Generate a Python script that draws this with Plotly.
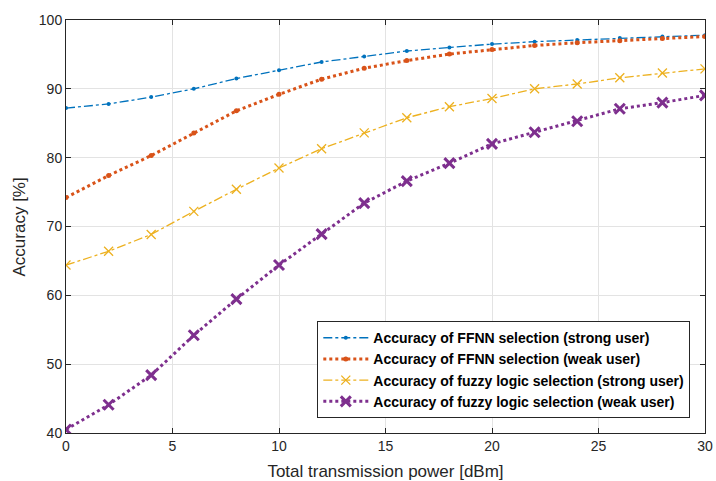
import plotly.graph_objects as go

power_dbm = [0, 2, 4, 6, 8, 10, 12, 14, 16, 18, 20, 22, 24, 26, 28, 30]
ffnn_strong = [87.2, 87.8, 88.8, 90.0, 91.5, 92.7, 93.9, 94.7, 95.5, 96.0, 96.5, 96.85, 97.1, 97.4, 97.6, 97.8]
ffnn_weak = [74.2, 77.4, 80.3, 83.6, 86.8, 89.2, 91.4, 93.0, 94.1, 95.05, 95.7, 96.3, 96.7, 97.0, 97.3, 97.6]
fuzzy_strong = [64.4, 66.4, 68.85, 72.2, 75.4, 78.5, 81.3, 83.6, 85.8, 87.4, 88.6, 90.0, 90.7, 91.6, 92.3, 92.9]
fuzzy_weak = [40.5, 44.1, 48.4, 54.2, 59.45, 64.4, 68.9, 73.4, 76.6, 79.2, 82.0, 83.7, 85.3, 87.1, 88.0, 89.05]

names = [
    "Accuracy of FFNN selection (strong user)",
    "Accuracy of FFNN selection (weak user)",
    "Accuracy of fuzzy logic selection (strong user)",
    "Accuracy of fuzzy logic selection (weak user)",
]
x_title = "Total transmission power [dBm]"
y_title = "Accuracy [%]"

FONT = "Liberation Sans, Arial, Helvetica"

fig = go.Figure()
fig.add_trace(go.Scatter(x=power_dbm, y=ffnn_strong, name=names[0], mode="lines+markers",
                         line=dict(color="#0072BD", width=1.3, dash="dashdot"),
                         marker=dict(symbol="circle", size=4, color="#0072BD")))
fig.add_trace(go.Scatter(x=power_dbm, y=ffnn_weak, name=names[1], mode="lines+markers",
                         line=dict(color="#D95319", width=3, dash="dot"),
                         marker=dict(symbol="circle", size=5, color="#D95319")))
fig.add_trace(go.Scatter(x=power_dbm, y=fuzzy_strong, name=names[2], mode="lines+markers",
                         line=dict(color="#EDB120", width=1.3, dash="dashdot"),
                         marker=dict(symbol="x-thin", size=9, color="#EDB120",
                                     line=dict(color="#EDB120", width=1.3))))
fig.add_trace(go.Scatter(x=power_dbm, y=fuzzy_weak, name=names[3], mode="lines+markers",
                         line=dict(color="#7E2F8E", width=3, dash="dot"),
                         marker=dict(symbol="x-thin", size=10, color="#7E2F8E",
                                     line=dict(color="#7E2F8E", width=3))))

axis_common = dict(showline=True, linecolor="#262626", linewidth=1, mirror="ticks",
                   ticks="inside", ticklen=5, tickcolor="#262626",
                   showgrid=True, gridcolor="#E3E3E3", gridwidth=1, zeroline=False,
                   automargin=False,
                   tickfont=dict(family=FONT, size=14, color="#262626"))

fig.update_xaxes(range=[0, 30], tick0=0, dtick=5,
                 title=dict(text=x_title,
                            font=dict(family=FONT, size=17, color="#262626")),
                 **axis_common)
fig.update_yaxes(range=[40, 100], tick0=40, dtick=10, **axis_common)

fig.add_annotation(text=y_title, xref="paper", yref="paper", x=-0.072, y=0.5,
                   xanchor="center", yanchor="middle", textangle=-90, showarrow=False,
                   font=dict(family=FONT, size=17, color="#262626"))

fig.update_layout(
    width=716, height=481,
    margin=dict(l=66, r=11, t=20, b=48),
    plot_bgcolor="white", paper_bgcolor="white",
    legend=dict(x=0.977, y=0.036, xanchor="right", yanchor="bottom",
                bgcolor="white", bordercolor="#262626", borderwidth=1,
                font=dict(family=FONT, size=14, color="black", weight="bold"),
                itemwidth=45, tracegroupgap=0),
    showlegend=True,
)

fig.write_html("out.html", config={"displayModeBar": False},
               post_script="document.body.style.margin='0px';document.body.style.overflow='hidden';")
